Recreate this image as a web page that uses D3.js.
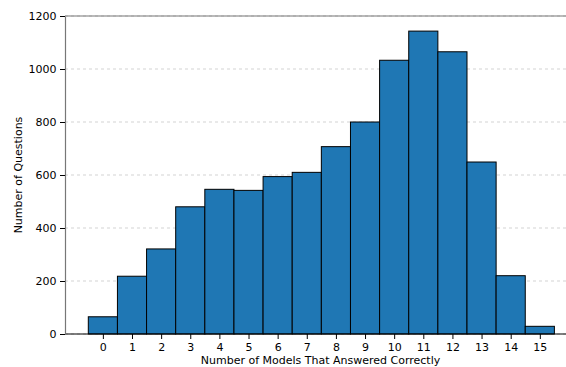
<!DOCTYPE html>
<html>
<head>
<meta charset="utf-8">
<script src="https://cdn.jsdelivr.net/npm/d3@7"></script>
<style>
  body { margin: 0; background: #fff; }
  svg { display: block; }
  svg text { font-family: "DejaVu Sans", sans-serif; }
</style>
</head>
<body>
<div id="chart"></div>
<script>
const WIDTH = 566;
const HEIGHT = 367;

// number of models that answered correctly
const models = [0, 1, 2, 3, 4, 5, 6, 7, 8, 9, 10, 11, 12, 13, 14, 15];
// number of questions for each count
const questions = [65, 218, 321, 480, 546, 542, 594, 610, 707, 800, 1033, 1143, 1065, 649, 220, 29];
const yTicks = [0, 200, 400, 600, 800, 1000, 1200];

const plotLeft = 65, plotTop = 16, plotBottom = 334;

const svg = d3.select("#chart").append("svg")
  .attr("width", WIDTH)
  .attr("height", HEIGHT);

const x = d3.scaleLinear().domain([-1.3, 16.3]).range([plotLeft, plotLeft + 17.6 * 29.13]);
const y = d3.scaleLinear().domain([0, 1200]).range([plotBottom, plotTop]);

// grid lines
svg.append("g")
  .selectAll("line")
  .data(yTicks)
  .enter()
  .append("line")
  .attr("x1", plotLeft)
  .attr("x2", WIDTH)
  .attr("y1", d => y(d))
  .attr("y2", d => y(d))
  .attr("stroke", "#b0b0b0")
  .attr("stroke-opacity", 0.7)
  .attr("stroke-width", 0.8)
  .attr("stroke-dasharray", "3,3");

// bars
svg.append("g")
  .selectAll("rect")
  .data(models)
  .enter()
  .append("rect")
  .attr("x", d => x(d - 0.5))
  .attr("y", (d, i) => y(questions[i]))
  .attr("width", x(1) - x(0))
  .attr("height", (d, i) => y(0) - y(questions[i]))
  .attr("fill", "#1f77b4")
  .attr("stroke", "#000")
  .attr("stroke-width", 1);

// top line at the upper limit
svg.append("line")
  .attr("x1", plotLeft).attr("x2", WIDTH)
  .attr("y1", y(1200)).attr("y2", y(1200))
  .attr("stroke", "#777")
  .attr("stroke-width", 1.2);

// axes
const xAxis = svg.append("g")
  .attr("transform", `translate(0,${plotBottom})`)
  .call(d3.axisBottom(x).tickValues(models).tickSize(5).tickPadding(3.5).tickSizeOuter(0));
xAxis.select(".domain").attr("stroke", "#000").attr("stroke-width", 1)
  .attr("d", `M${plotLeft},0H${WIDTH}`);
xAxis.selectAll("text").attr("font-size", 11).attr("font-family", "DejaVu Sans").attr("fill", "#000").attr("dy", "0.76em");

const yAxis = svg.append("g")
  .attr("transform", `translate(${plotLeft},0)`)
  .call(d3.axisLeft(y).tickValues(yTicks).tickFormat(d3.format("d")).tickSize(5).tickPadding(3.5).tickSizeOuter(0));
yAxis.select(".domain").attr("stroke", "#777").attr("stroke-width", 1.2);
yAxis.selectAll("text").attr("font-size", 11).attr("font-family", "DejaVu Sans").attr("fill", "#000");

// labels
svg.append("text")
  .attr("x", (plotLeft + WIDTH) / 2 + 5)
  .attr("y", 364)
  .attr("text-anchor", "middle")
  .attr("font-size", 11)
  .text("Number of Models That Answered Correctly");

svg.append("text")
  .attr("transform", `translate(22,${(plotTop + plotBottom) / 2}) rotate(-90)`)
  .attr("text-anchor", "middle")
  .attr("font-size", 11)
  .text("Number of Questions");
</script>
</body>
</html>
